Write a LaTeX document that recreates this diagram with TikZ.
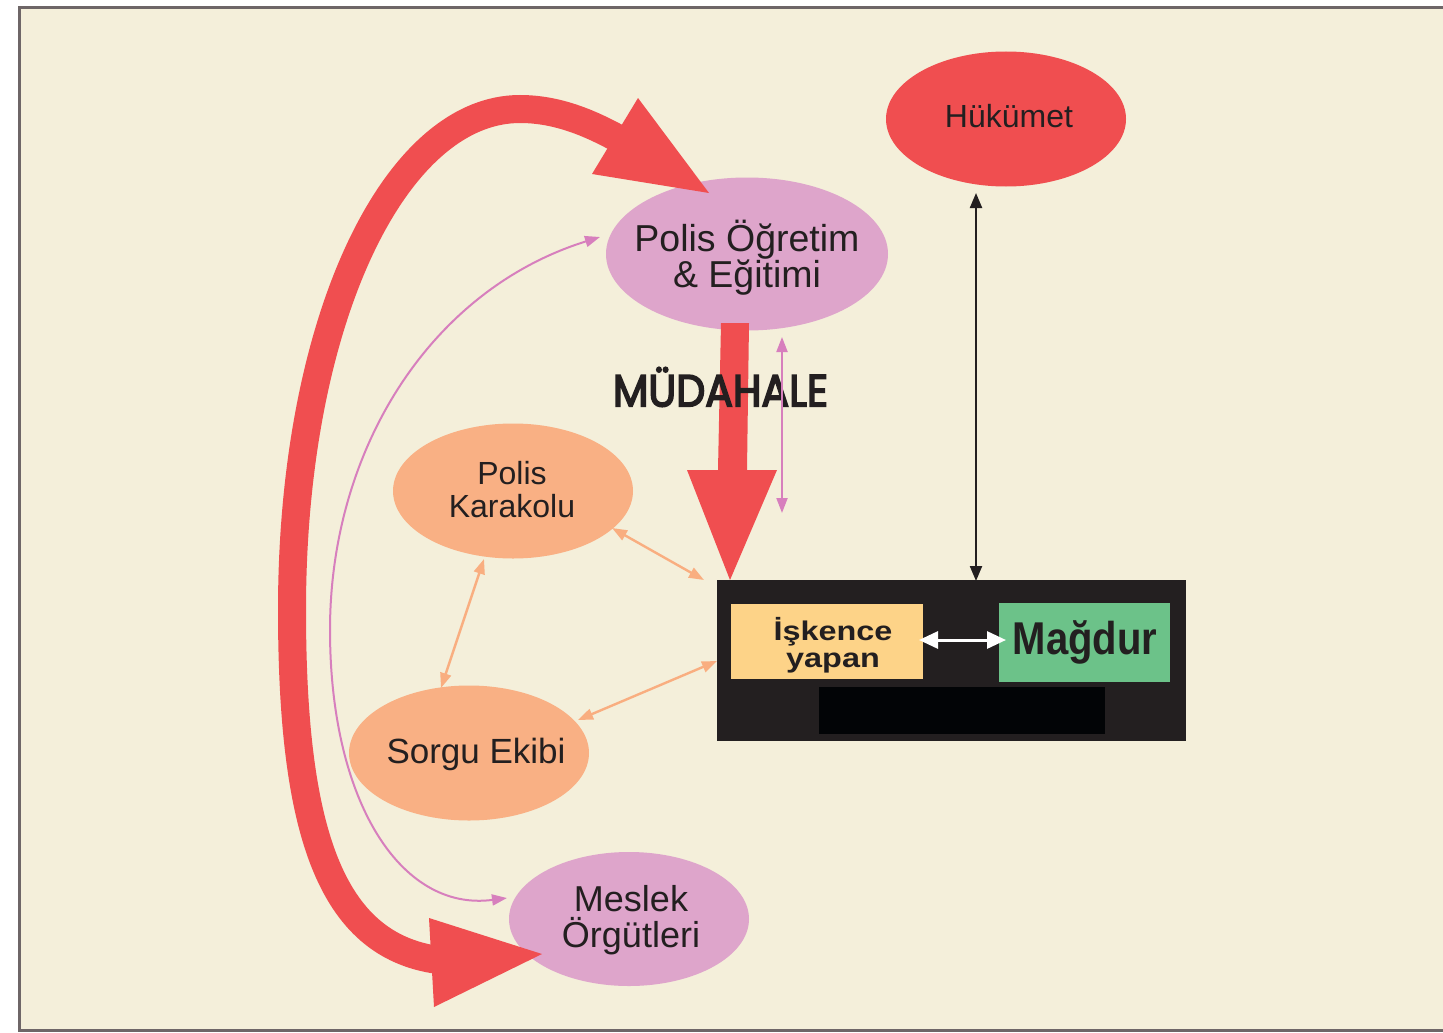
\documentclass[tikz,border=0pt]{standalone}
\usepackage{fontspec}
\usepackage{graphicx}
\setmainfont{Liberation Sans}
\newfontfamily\mudfont[FakeBold=4]{Poppins}
\usetikzlibrary{shapes.geometric,arrows.meta}
\definecolor{cream}{HTML}{F4EFDA}
\definecolor{framec}{HTML}{6E6667}
\definecolor{redc}{HTML}{F04E50}
\definecolor{pinkf}{HTML}{DEA5CB}
\definecolor{pinka}{HTML}{D77FBD}
\definecolor{orangef}{HTML}{F9B084}
\definecolor{orangea}{HTML}{F9AE80}
\definecolor{darkc}{HTML}{231F20}
\definecolor{yellowc}{HTML}{FDD388}
\definecolor{greenc}{HTML}{6CC289}
\definecolor{blackc}{HTML}{020406}
\definecolor{txt}{HTML}{231F20}
\begin{document}
\begin{tikzpicture}[x=1pt,y=-1pt,
  ell/.style={ellipse, inner sep=0pt, draw=none},
  lbl/.style={text=txt, align=center, inner sep=0pt},
  thin/.style={line width=2pt},
  tipA/.style={{Triangle[length=15pt,width=11pt]}-{Triangle[length=15pt,width=11pt]}},
  heavy/.style={redc, line width=28pt}
]
\useasboundingbox (0,0) rectangle (1443,1033);
\clip (0,0) rectangle (1443,1033);
\fill[white] (0,0) rectangle (1443,1033);
\draw[framec, fill=cream, line width=3pt] (19.5,8) rectangle (1490,1030.5);

% ellipses
\node[ell, fill=redc, minimum width=240pt, minimum height=135pt] (huk) at (1006,119) {};
\node[lbl, font=\fontsize{32}{34}\selectfont] (hukt) at (1009,116) {Hükümet};

\node[ell, fill=pinkf, minimum width=282pt, minimum height=153pt] (poe) at (747,254) {};
\node[lbl, font=\fontsize{37.5}{36}\selectfont] (poet) at (747,258) {Polis Öğretim\\\& Eğitimi};

\node[ell, fill=orangef, minimum width=240pt, minimum height=135pt] (kar) at (513,491) {};
\node[lbl, font=\fontsize{32}{33}\selectfont] (kart) at (512,490) {Polis\\Karakolu};

\node[ell, fill=orangef, minimum width=240pt, minimum height=135pt] (sor) at (469,753) {};
\node[lbl, font=\fontsize{35}{36}\selectfont] (sort) at (476,754) {Sorgu Ekibi};

\node[ell, fill=pinkf, minimum width=240pt, minimum height=134pt] (mes) at (629,919) {};
\node[lbl, font=\fontsize{36}{36}\selectfont] (mest) at (631,920) {Meslek\\Örgütleri};

% box
\node[fill=darkc, minimum width=469pt, minimum height=161pt, inner sep=0pt] (box) at (951.5,660.5) {};
\node[fill=yellowc, minimum width=192pt, minimum height=75pt, inner sep=0pt] (isk) at (827,641.5) {};
\node[lbl, font=\fontsize{27}{27}\selectfont\bfseries] (iskt) at (833,646) {\scalebox{1.2}[1]{\begin{tabular}{@{}c@{}}İşkence\\yapan\end{tabular}}};
\node[fill=greenc, minimum width=171pt, minimum height=79pt, inner sep=0pt] (mag) at (1084.5,642.5) {};
\node[lbl, font=\fontsize{46}{46}\selectfont\bfseries] (magt) at (1085,642) {\scalebox{0.87}[1]{Mağdur}};
\node[fill=blackc, minimum width=286pt, minimum height=47pt, inner sep=0pt] (blk) at (962,710.5) {};

% heavy straight arrow (MÜDAHALE)
\coordinate (mtip) at (730,580);
\fill[redc] (721,323) -- (749,323) -- (747,470) -- (777,470) -- (mtip) -- (687,470) -- (718,470) -- cycle;

% heavy curved arrow
\coordinate (c1) at (438,960);
\coordinate (c2) at (619,139);
\draw[heavy] (c1) .. controls (330,945) and (292,830) .. (292,610)
  .. controls (292,320) and (395,109) .. (520,109)
  .. controls (556,109) and (588,122) .. (c2);
\fill[redc] (638,98) -- (709,193) -- (592,174) -- cycle;
\fill[redc] (429,918) -- (542,954) -- (434,1007) -- cycle;

% text on top
\node[text=txt, inner sep=0pt] (mud) at (720.5,387) {\resizebox{215pt}{39pt}{\mudfont MÜDAHALE}};

% thin pink arrows
\coordinate (pc1) at (600,237);
\coordinate (pc2) at (507,898);
\draw[pinka, thin, tipA] (pc1) .. controls (430,290) and (330,450) .. (330,630)
  .. controls (330,800) and (400,912) .. (pc2);
\coordinate (pv1) at (782,337);
\coordinate (pv2) at (782,513);
\draw[pinka, thin, tipA] (pv1) -- (pv2);

% black arrow
\coordinate (bk1) at (976,193);
\coordinate (bk2) at (976,581);
\draw[darkc, line width=2.2pt, {Triangle[length=15pt,width=12pt]}-{Triangle[length=15pt,width=12pt]}] (bk1) -- (bk2);

% orange arrows
\coordinate (o1) at (612,528);
\coordinate (o2) at (704,580);
\coordinate (o3) at (484,559);
\coordinate (o4) at (441,688);
\coordinate (o5) at (578,720);
\coordinate (o6) at (717,661);
\draw[orangea, line width=2.4pt, tipA] (o1) -- (o2);
\draw[orangea, line width=2.4pt, tipA] (o3) -- (o4);
\draw[orangea, line width=2.4pt, tipA] (o5) -- (o6);

% white arrow
\coordinate (w1) at (919,640);
\coordinate (w2) at (1006,640);
\draw[white, line width=3pt, {Triangle[length=19pt,width=17pt]}-{Triangle[length=19pt,width=17pt]}] (w1) -- (w2);
\end{tikzpicture}
\end{document}
